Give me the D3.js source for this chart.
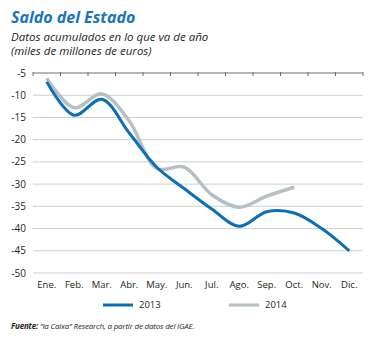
<!DOCTYPE html>
<html lang="es">
  <head>
    <meta charset="UTF-8" />
    <title>Saldo del Estado</title>
    <script src="https://d3js.org/d3.v7.min.js"></script>
    <style>
      body {
        margin: 0;
        background: #ffffff;
      }
      svg text {
        font-family: 'Open Sans', 'Noto Sans', sans-serif;
        fill: #231f20;
      }
    </style>
  </head>
  <body>
    <div id="chart"></div>
    <script>
      const months = ['Ene.', 'Feb.', 'Mar.', 'Abr.', 'May.', 'Jun.', 'Jul.', 'Ago.', 'Sep.', 'Oct.', 'Nov.', 'Dic.'];
      const values2013 = [-7.0, -14.5, -10.9, -18.5, -26.2, -31.0, -35.6, -39.5, -36.2, -36.5, -40.0, -45.0];
      const values2014 = [-6.2, -12.8, -9.7, -15.8, -26.5, -26.2, -32.4, -35.2, -32.7, -30.7];
      const yTicks = [-5, -10, -15, -20, -25, -30, -35, -40, -45, -50];
      const seriesNames = ['2013', '2014'];

      const width = 374;
      const height = 338;
      const plot = { left: 33, right: 363, top: 73, bottom: 273 };

      const svg = d3
        .select('#chart')
        .append('svg')
        .attr('width', width)
        .attr('height', height);

      const x = d3.scaleBand().domain(months).range([plot.left, plot.right]);
      const y = d3.scaleLinear().domain([-5, -50]).range([plot.top, plot.bottom]);

      // gridlines
      svg
        .append('g')
        .selectAll('line')
        .data(yTicks.slice(1))
        .enter()
        .append('line')
        .attr('x1', plot.left)
        .attr('x2', plot.right)
        .attr('y1', d => y(d))
        .attr('y2', d => y(d))
        .attr('stroke', '#cfcfcf')
        .attr('stroke-width', 1);

      // y labels
      svg
        .append('g')
        .selectAll('text')
        .data(yTicks)
        .enter()
        .append('text')
        .attr('x', 26)
        .attr('y', d => y(d))
        .attr('dy', '0.35em')
        .attr('text-anchor', 'end')
        .style('font-size', '10px')
        .text(d => d);

      // top axis line with ticks
      const topAxis = svg.append('g').attr('transform', `translate(0,${plot.top})`);
      topAxis
        .append('line')
        .attr('x1', plot.left)
        .attr('x2', plot.right)
        .attr('stroke', '#6d6e71')
        .attr('stroke-width', 1);
      topAxis
        .selectAll('.tick')
        .data(months.concat(['end']))
        .enter()
        .append('line')
        .attr('x1', (d, i) => plot.left + i * x.step())
        .attr('x2', (d, i) => plot.left + i * x.step())
        .attr('y1', -1)
        .attr('y2', 3)
        .attr('stroke', '#6d6e71')
        .attr('stroke-width', 1);

      // month labels
      svg
        .append('g')
        .selectAll('text')
        .data(months)
        .enter()
        .append('text')
        .attr('x', d => x(d) + x.bandwidth() / 2)
        .attr('y', 288)
        .attr('text-anchor', 'middle')
        .style('font-size', '9.5px')
        .text(d => d);

      const line = d3
        .line()
        .x((d, i) => x(months[i]) + x.bandwidth() / 2)
        .y(d => y(d))
        .curve(d3.curveCatmullRom.alpha(0.5));

      svg
        .append('path')
        .datum(values2014)
        .attr('fill', 'none')
        .attr('stroke', '#b5bfc4')
        .attr('stroke-width', 3.5)
        .attr('d', line);

      svg
        .append('path')
        .datum(values2013)
        .attr('fill', 'none')
        .attr('stroke', '#0d6eb8')
        .attr('stroke-width', 3)
        .attr('d', line);

      // legend
      const legend = [
        { name: seriesNames[0], color: '#0d6eb8', x: 103 },
        { name: seriesNames[1], color: '#b5bfc4', x: 229 },
      ];
      legend.forEach(l => {
        svg
          .append('line')
          .attr('x1', l.x)
          .attr('x2', l.x + 30)
          .attr('y1', 305)
          .attr('y2', 305)
          .attr('stroke', l.color)
          .attr('stroke-width', 3);
        svg
          .append('text')
          .attr('x', l.x + 36)
          .attr('y', 305)
          .attr('dy', '0.35em')
          .style('font-size', '9.5px')
          .text(l.name);
      });

      // titles
      svg
        .append('text')
        .attr('x', 11)
        .attr('y', 23)
        .style('font-size', '16px')
        .style('font-weight', 'bold')
        .style('font-style', 'italic')
        .style('fill', '#1a75bc')
        .text('Saldo del Estado');

      svg
        .append('text')
        .attr('x', 11)
        .attr('y', 41)
        .style('font-size', '11.5px')
        .style('font-style', 'italic')
        .text('Datos acumulados en lo que va de año');

      svg
        .append('text')
        .attr('x', 11)
        .attr('y', 55)
        .style('font-size', '11.5px')
        .style('font-style', 'italic')
        .text('(miles de millones de euros)');

      const source = svg
        .append('text')
        .attr('x', 11)
        .attr('y', 329)
        .style('font-size', '8px')
        .style('letter-spacing', '-0.2px')
        .style('font-style', 'italic');
      source.append('tspan').style('font-weight', 'bold').text('Fuente: ');
      source.append('tspan').text('“la Caixa” Research, a partir de datos del IGAE.');
    </script>
  </body>
</html>
